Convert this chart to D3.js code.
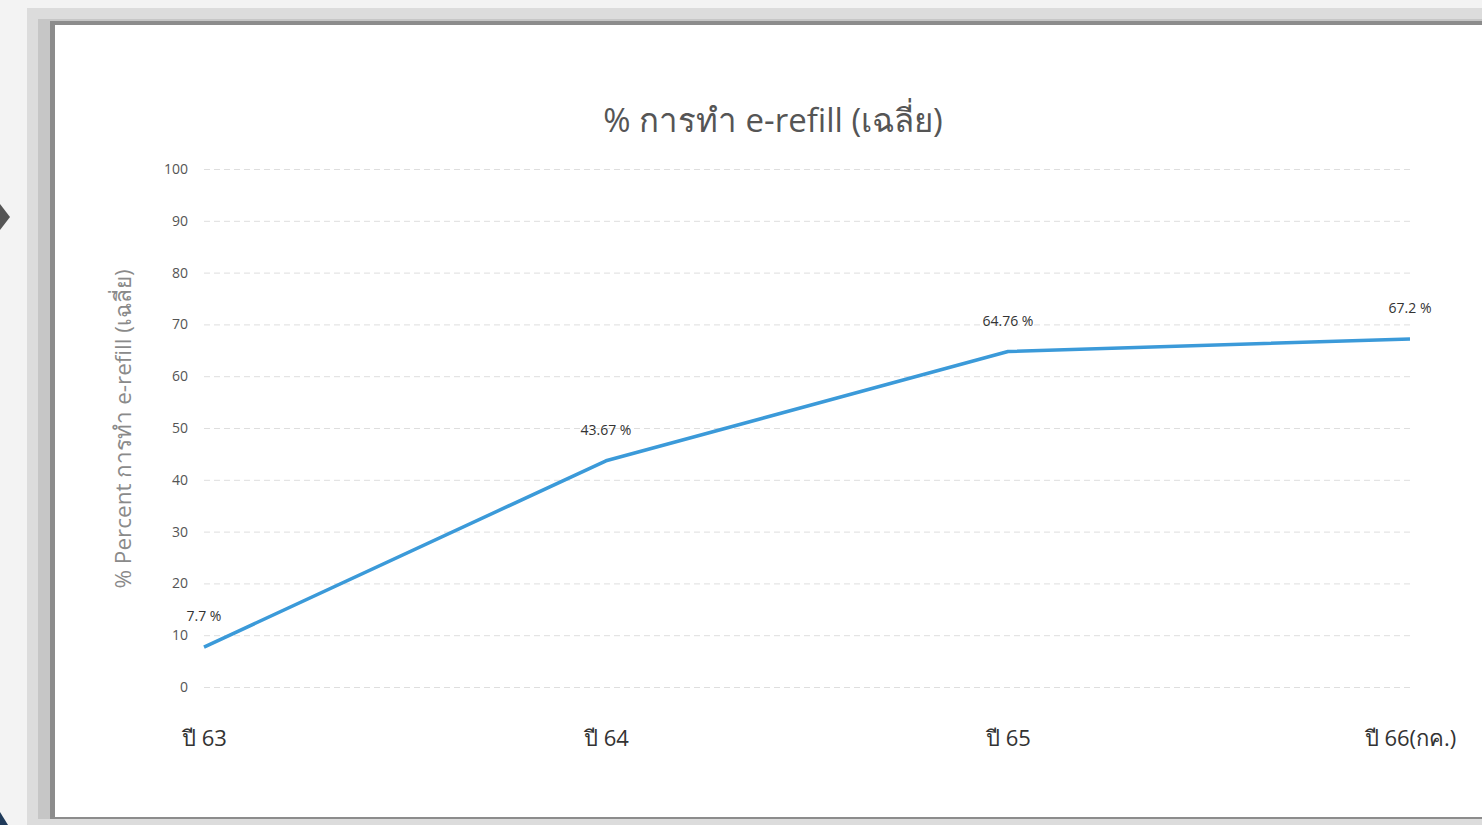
<!DOCTYPE html>
<html><head><meta charset="utf-8">
<script src="https://cdn.jsdelivr.net/npm/d3@7"></script>
<style>
html,body{margin:0;padding:0;background:#fff;}
svg{display:block;font-family:"Open Sans","Noto Sans",sans-serif;}
</style></head><body>
<svg id="c" width="1482" height="825"></svg>
<script>
const title = "% การทำ e-refill (เฉลี่ย)";
const yTitle = "% Percent การทำ e-refill (เฉลี่ย)";
const categories = ["ปี 63", "ปี 64", "ปี 65", "ปี 66(กค.)"];
const values = [7.7, 43.67, 64.76, 67.2];
const yTicks = [0, 10, 20, 30, 40, 50, 60, 70, 80, 90, 100];

const svg = d3.select("#c");
// frame
svg.append("rect").attr("x",0).attr("y",0).attr("width",1482).attr("height",825).attr("fill","#f3f3f3");
svg.append("rect").attr("x",27).attr("y",8).attr("width",1455).attr("height",817).attr("fill","#dcdcdc");
svg.append("rect").attr("x",38).attr("y",19).attr("width",1444).attr("height",800).attr("fill","#c6c6c6");
svg.append("rect").attr("x",50).attr("y",21).attr("width",1432).attr("height",798).attr("fill","#8c8c8c");
svg.append("rect").attr("x",55).attr("y",25).attr("width",1427).attr("height",792).attr("fill","#ffffff");
// left arrow marker
svg.append("path").attr("d","M0,204 L10,217 L0,230 Z").attr("fill","#555");
svg.append("path").attr("d","M0,812 L8,825 L0,825 Z").attr("fill","#1f3a5a");

const x = d3.scalePoint().domain(categories).range([204, 1410]);
const y = d3.scaleLinear().domain([0, 100]).range([687, 169]);

// gridlines
const yAxis = d3.axisLeft(y).tickValues(yTicks).tickSize(-(1410-204)).tickPadding(16);
const gy = svg.append("g").attr("transform","translate(204,0)").call(yAxis);
gy.select(".domain").remove();
gy.selectAll(".tick line").attr("stroke","#dedede").attr("stroke-dasharray","6,4").attr("stroke-width",1);
gy.selectAll(".tick text").attr("fill","#555").attr("font-size",14).attr("font-family","'Open Sans','Noto Sans',sans-serif");

const xAxis = d3.axisBottom(x).tickSize(0).tickPadding(0);
const gx = svg.append("g").attr("transform","translate(0,738)").call(xAxis);
gx.select(".domain").remove();
gx.selectAll(".tick text").attr("fill","#333").attr("font-size",22).attr("dy","0.35em").attr("font-family","'Open Sans','Noto Sans',sans-serif");

// line
const line = d3.line().x((d,i)=>x(categories[i])).y(d=>y(d));
svg.append("path").datum(values).attr("d",line).attr("fill","none")
  .attr("stroke","#3b9ad9").attr("stroke-width",3.5).attr("stroke-linejoin","round");

// labels
svg.append("g").selectAll("text").data(values).join("text")
  .attr("x",(d,i)=>x(categories[i]))
  .attr("y",d=>y(d)-26)
  .attr("text-anchor","middle")
  .attr("fill","#333").attr("font-size",14)
  .text(d=>d+" %");

// title
svg.append("text").attr("x",773).attr("y",132).attr("text-anchor","middle")
  .attr("fill","#555").attr("font-size",33).text(title);
// y title
svg.append("text").attr("transform","translate(131,429) rotate(-90)").attr("text-anchor","middle")
  .attr("fill","#8a8a8a").attr("font-size",22.5).text(yTitle);
</script></body></html>
